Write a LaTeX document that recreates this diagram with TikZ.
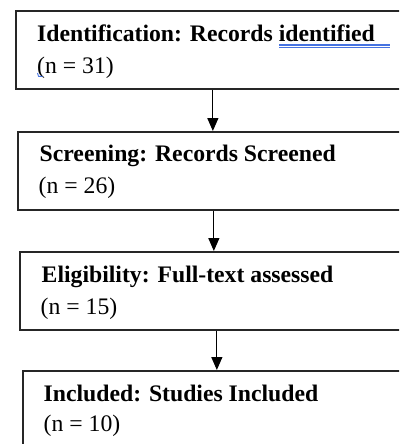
\documentclass[tikz,border=0pt]{standalone}
\usepackage{fontspec}
\setmainfont{Liberation Serif}
\usetikzlibrary{arrows.meta}
\tikzset{
  stagebox/.style={draw=black!85, line width=1.7pt, rectangle, anchor=north west, inner sep=0pt, minimum height=78pt},
  headtext/.style={anchor=base west, inner sep=0pt, font=\fontsize{23.7}{32}\selectfont\bfseries},
  counttext/.style={anchor=base west, inner sep=0pt, font=\fontsize{23.7}{32}\selectfont},
  flowarrow/.style={draw=black, line width=1.2pt, -{Triangle[width=11pt,length=13pt]}},
  spellmark/.style={draw={rgb,255:red,70;green,115;blue,225}, line width=1.1pt}
}
\begin{document}
\begin{tikzpicture}[x=1pt,y=-1pt]
\useasboundingbox (0,0) rectangle (399,444);
\clip (0,0) rectangle (399,444);
\fill[white] (0,0) rectangle (399,444);
% boxes
\node[stagebox, minimum width=394pt] (b1) at (15,10) {};
\node[stagebox, minimum width=392pt] (b2) at (17,131) {};
\node[stagebox, minimum width=394pt] (b3) at (19,251) {};
\node[stagebox, minimum width=390pt, minimum height=100pt] (b4) at (22,370) {};
% texts
\node[headtext] (h1) at (37,41.7) {Identification: Records identified};
\node[counttext] (c1) at (37,73.5) {(n = 31)};
\node[headtext] (h2) at (39.5,161.7) {Screening: Records Screened};
\node[counttext] (c2) at (38.5,193) {(n = 26)};
\node[headtext] (h3) at (41.5,282.5) {Eligibility: Full-text assessed};
\node[counttext] (c3) at (40.5,314) {(n = 15)};
\node[headtext] (h4) at (43.5,401.7) {Included: Studies Included};
\node[counttext] (c4) at (43.5,431.7) {(n = 10)};
% spell-check marks
\coordinate (u1) at (279,45);
\coordinate (u2) at (390,45);
\coordinate (u3) at (279,47.8);
\coordinate (u4) at (390,47.8);
\draw[spellmark] (u1) -- (u2);
\draw[spellmark] (u3) -- (u4);
\coordinate (s1) at (37.5,73);
\coordinate (s2) at (42.5,76.5);
\draw[spellmark, line width=0.9pt] (s1) -- (38.5,76.3) -- (s2);
% arrows
\draw[flowarrow] (b1.south) -- (b1.south |- b2.north);
\draw[flowarrow] (b2.south) -- (b2.south |- b3.north);
\draw[flowarrow] (b3.south) -- (b3.south |- b4.north);
\end{tikzpicture}
\end{document}
